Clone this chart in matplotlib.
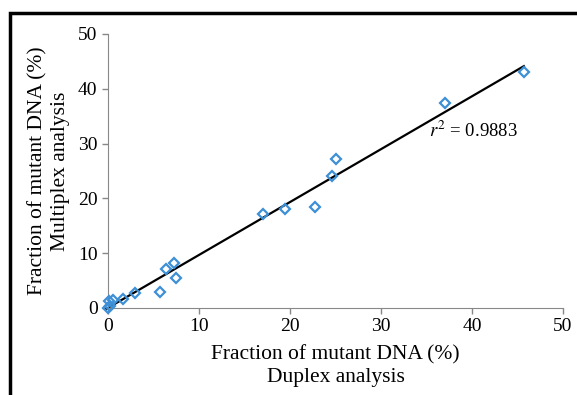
import numpy as np
import matplotlib.pyplot as plt
from matplotlib.patches import Rectangle

plt.rcParams['font.family'] = 'Liberation Serif'
plt.rcParams['mathtext.fontset'] = 'stix'

# duplex vs multiplex fraction of mutant DNA (%)
duplex = [0.0, 0.2, 0.1, 0.6, 1.7, 3.0, 5.7, 6.4, 7.3, 7.5,
          17.0, 19.4, 22.7, 24.6, 25.1, 37.0, 45.7]
multiplex = [0.0, 0.3, 1.3, 1.5, 1.6, 2.7, 2.9, 7.1, 8.3, 5.5,
             17.2, 18.1, 18.5, 24.1, 27.2, 37.4, 43.0]
x_ticks = [0, 10, 20, 30, 40, 50]
y_ticks = [0, 10, 20, 30, 40, 50]
r2_text = r'$r^{2}$ = 0.9883'

fig = plt.figure(figsize=(5.77, 3.95), dpi=100)
ax = fig.add_axes([108 / 577, 1 - 308 / 395, 455 / 577, 274 / 395])

# trendline
slope, icept = np.polyfit(duplex, multiplex, 1)
xs = np.array([-0.2, max(duplex)])
ax.plot(xs, slope * xs + icept, color='black', lw=1.6, zorder=2, clip_on=False)

ax.plot(duplex, multiplex, 'D', mfc='none', mec='#3d8fd6', mew=1.6, ms=5,
        zorder=3, clip_on=False)

ax.text(35.3, 32.3, r2_text, fontsize=13.5, va='center', ha='left')

ax.set_xlim(0, 50)
ax.set_ylim(0, 50)
ax.set_xticks(x_ticks)
ax.set_yticks(y_ticks)
ax.tick_params(direction='out', length=4, color='#888888', labelsize=14, width=1)
for s in ['top', 'right']:
    ax.spines[s].set_visible(False)
for s in ['left', 'bottom']:
    ax.spines[s].set_color('#888888')

ax.set_xlabel('Fraction of mutant DNA (%)\nDuplex analysis', fontsize=15.5,
              linespacing=1.25, labelpad=7)
ax.set_ylabel('Fraction of mutant DNA (%)\nMultiplex analysis', fontsize=15.5,
              linespacing=1.25, labelpad=6)

# frame round the figure (cut off at right and bottom)
fig.patches.append(Rectangle((10 / 577, -0.1), 1.2, 1.1 - 13 / 395,
                             transform=fig.transFigure, fill=False,
                             edgecolor='black', lw=2.5))

fig.savefig('out.png', dpi=100)
